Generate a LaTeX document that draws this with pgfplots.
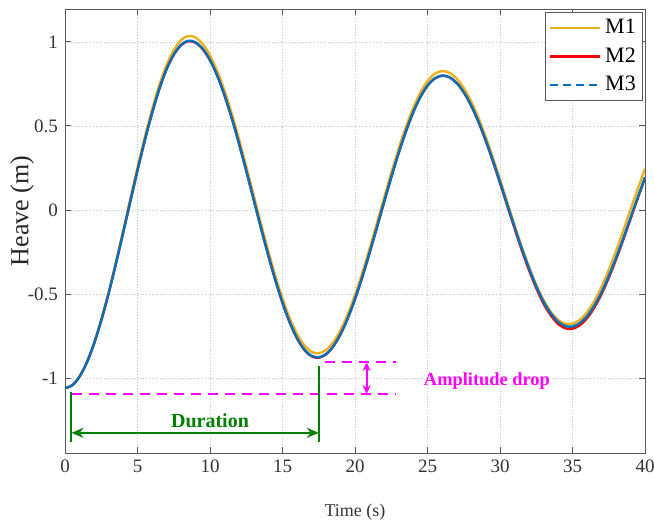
\documentclass[border=0pt]{standalone}
\usepackage{fontspec}
\setmainfont{Liberation Serif}
\usepackage{pgfplots}
\usepackage{pgfplotstable}
\pgfplotsset{compat=1.18}
\usetikzlibrary{arrows.meta}
\definecolor{mone}{RGB}{237,177,32}
\definecolor{mtwo}{RGB}{255,0,0}
\definecolor{mthree}{RGB}{0,114,189}
\definecolor{gr}{RGB}{0,128,0}
\definecolor{mag}{RGB}{255,0,255}

\pgfplotstableread{
t y
0 -1.06
0.5 -1.0426
1 -0.9909
1.5 -0.9066
2 -0.7925
2.5 -0.6518
3 -0.4919
3.5 -0.3137
4 -0.1265
4.5 0.0645
5 0.2530
5.5 0.4328
6 0.5965
6.5 0.7428
7 0.8621
7.5 0.9521
8 1.0107
8.5 1.0353
9 1.0264
9.5 0.9877
10 0.9205
10.5 0.8270
11 0.7100
11.5 0.5738
12 0.4216
12.5 0.2591
13 0.0915
13.5 -0.0761
14 -0.2386
14.5 -0.3908
15 -0.5270
15.5 -0.6440
16 -0.7375
16.5 -0.8047
17 -0.8434
17.5 -0.8524
18 -0.8331
18.5 -0.7869
19 -0.7151
19.5 -0.6203
20 -0.5054
20.5 -0.3749
21 -0.2315
21.5 -0.0816
22 0.0708
22.5 0.2203
23 0.3619
23.5 0.4913
24 0.6048
24.5 0.6974
25 0.7673
25.5 0.8105
26 0.8269
26.5 0.8171
27 0.7831
27.5 0.7261
28 0.6478
28.5 0.5509
29 0.4388
29.5 0.3141
30 0.1819
30.5 0.0463
31 -0.0883
31.5 -0.2182
32 -0.3373
32.5 -0.4445
33 -0.5349
33.5 -0.6054
34 -0.6531
34.5 -0.6768
35 -0.6771
35.5 -0.6539
36 -0.6084
36.5 -0.5421
37 -0.4572
37.5 -0.3568
38 -0.2443
38.5 -0.1235
39 0.0013
39.5 0.1258
40 0.2463
}\mone

\pgfplotstableread{
t y
0 -1.06
0.5 -1.0428
1 -0.9918
1.5 -0.9087
2 -0.7961
2.5 -0.6572
3 -0.4995
3.5 -0.3237
4 -0.1390
4.5 0.0495
5 0.2355
5.5 0.4129
6 0.5744
6.5 0.7187
7 0.8365
7.5 0.9232
8 0.9801
8.5 1.0043
9 0.9954
9.5 0.9568
10 0.8907
10.5 0.7994
11 0.6827
11.5 0.5468
12 0.3949
12.5 0.2328
13 0.0655
13.5 -0.1018
14 -0.2639
14.5 -0.4158
15 -0.5527
15.5 -0.6704
16 -0.7647
16.5 -0.8318
17 -0.8704
17.5 -0.8794
18 -0.8592
18.5 -0.8120
19 -0.7394
19.5 -0.6447
20 -0.5300
20.5 -0.3997
21 -0.2566
21.5 -0.1070
22 0.0451
22.5 0.1943
23 0.3358
23.5 0.4649
24 0.5782
24.5 0.6706
25 0.7394
25.5 0.7825
26 0.7989
26.5 0.7902
27 0.7566
27.5 0.7001
28 0.6227
28.5 0.5266
29 0.4155
29.5 0.2918
30 0.1605
30.5 0.0257
31 -0.1084
31.5 -0.2381
32 -0.3576
32.5 -0.4651
33 -0.5572
33.5 -0.6263
34 -0.6774
34.5 -0.7036
35 -0.7062
35.5 -0.6859
36 -0.6438
36.5 -0.5812
37 -0.5003
37.5 -0.4033
38 -0.2945
38.5 -0.1767
39 -0.0538
39.5 0.0699
40 0.1904
}\mtwo

\pgfplotstableread{
t y
0 -1.06
0.5 -1.0428
1 -0.9918
1.5 -0.9087
2 -0.7961
2.5 -0.6572
3 -0.4995
3.5 -0.3237
4 -0.1390
4.5 0.0495
5 0.2355
5.5 0.4129
6 0.5744
6.5 0.7187
7 0.8365
7.5 0.9252
8 0.9831
8.5 1.0073
9 0.9984
9.5 0.9598
10 0.8927
10.5 0.7994
11 0.6827
11.5 0.5468
12 0.3949
12.5 0.2328
13 0.0655
13.5 -0.1018
14 -0.2639
14.5 -0.4158
15 -0.5517
15.5 -0.6684
16 -0.7617
16.5 -0.8288
17 -0.8674
17.5 -0.8764
18 -0.8572
18.5 -0.8110
19 -0.7394
19.5 -0.6447
20 -0.5300
20.5 -0.3997
21 -0.2566
21.5 -0.1070
22 0.0451
22.5 0.1943
23 0.3358
23.5 0.4649
24 0.5782
24.5 0.6706
25 0.7404
25.5 0.7835
26 0.7999
26.5 0.7903
27 0.7569
27.5 0.7010
28 0.6242
28.5 0.5290
29 0.4189
29.5 0.2962
30 0.1661
30.5 0.0324
31 -0.1006
31.5 -0.2292
32 -0.3476
32.5 -0.4542
33 -0.5455
33.5 -0.6140
34 -0.6647
34.5 -0.6907
35 -0.6932
35.5 -0.6731
36 -0.6314
36.5 -0.5694
37 -0.4893
37.5 -0.3932
38 -0.2855
38.5 -0.1688
39 -0.0470
39.5 0.0754
40 0.1948
}\mthree

\begin{document}
\begin{tikzpicture}
\begin{axis}[name=ax,
  scale only axis, width=290pt, height=222pt,
  xmin=0, xmax=40, ymin=-1.446, ymax=1.196,
  xtick={0,5,...,40}, ytick={-1,-0.5,0,0.5,1},
  tick pos=both, tick align=inside, major tick length=3pt,
  axis line style={black!65}, tick style={black!65, line width=0.5pt},
  grid=major, major grid style={densely dotted, gray!45, line width=0.4pt},
  /pgf/number format/assume math mode=true,
  tick label style={font=\fontsize{9.5}{11}\selectfont, black!80},
  xlabel={Time (s)}, ylabel={Heave (m)},
  xlabel style={at={(axis description cs:0.5,-0.133)}, anchor=center, font=\fontsize{9}{11}\selectfont, black!80},
  ylabel style={at={(axis description cs:-0.074,0.545)}, anchor=center, font=\fontsize{13}{15}\selectfont, black!85},
  legend style={at={(rel axis cs:0.997,0.994)}, anchor=north east, draw=black!65, line width=0.5pt,
    font=\fontsize{11}{13}\selectfont, inner sep=1.5pt, row sep=1.5pt},
  legend cell align=left,
  legend image code/.code={\draw[#1] (0pt,0pt) -- (25pt,0pt);},
]
\addplot[mone, line width=1.2pt, smooth] table[x=t,y=y] {\mone};
\addplot[mtwo, line width=1.2pt, smooth] table[x=t,y=y] {\mtwo};
\addplot[mthree, line width=1.2pt, smooth, forget plot] table[x=t,y=y] {\mthree};
\addlegendimage{mthree, line width=1pt, dash pattern=on 4pt off 2.5pt}
\legend{M1,M2,M3}

% annotations
\draw[mag, line width=1pt, dash pattern=on 5pt off 3.5pt] (axis cs:0.45,-1.097) -- (axis cs:22.8,-1.097);
\draw[mag, line width=1pt, dash pattern=on 5pt off 3.5pt] (axis cs:17.9,-0.903) -- (axis cs:22.8,-0.903);
\draw[mag, line width=0.9pt, {Stealth[length=4.5pt,width=4pt]}-{Stealth[length=4.5pt,width=4pt]}] (axis cs:20.8,-0.905) -- (axis cs:20.8,-1.095);
\node[mag, font=\bfseries\fontsize{9.2}{10}\selectfont] at (axis cs:29.1,-1.016) {Amplitude drop};
\draw[gr, line width=1.1pt] (axis cs:0.41,-1.08) -- (axis cs:0.41,-1.38);
\draw[gr, line width=1.1pt] (axis cs:17.54,-0.93) -- (axis cs:17.54,-1.38);
\draw[gr, line width=1pt, {Stealth[length=6pt,width=5pt,inset=2pt]}-{Stealth[length=6pt,width=5pt,inset=2pt]}] (axis cs:0.45,-1.326) -- (axis cs:17.5,-1.326);
\node[gr, font=\bfseries\fontsize{10}{12}\selectfont] at (axis cs:10,-1.254) {Duration};
\end{axis}
\pgfresetboundingbox
\path ([shift={(-32.5pt,-36.5pt)}]ax.south west) rectangle ([shift={(4.5pt,4.5pt)}]ax.north east);
\end{tikzpicture}
\end{document}
